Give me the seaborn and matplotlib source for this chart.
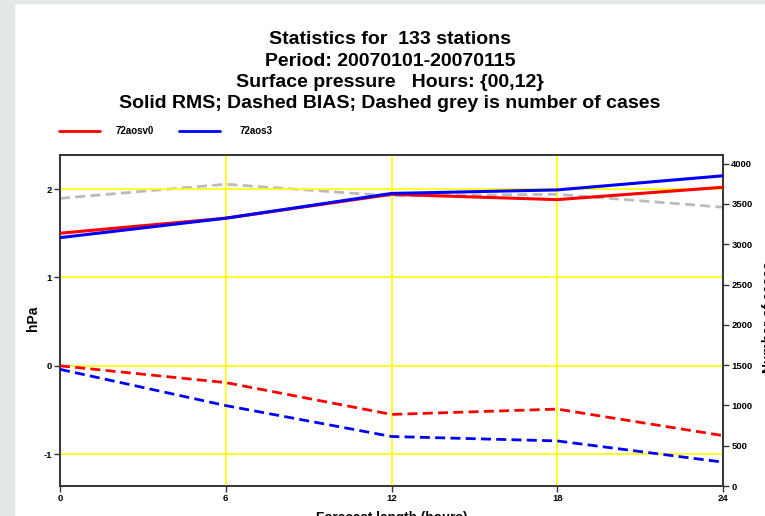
import matplotlib
matplotlib.use("Agg")
import matplotlib.pyplot as plt
import seaborn as sns
import pandas as pd

hours = [0, 6, 12, 18, 24]
rms_72aosv0 = [1.50, 1.67, 1.94, 1.88, 2.02]
rms_72aos3 = [1.45, 1.67, 1.95, 1.99, 2.15]
bias_72aosv0 = [0.00, -0.19, -0.55, -0.49, -0.79]
bias_72aos3 = [-0.04, -0.45, -0.80, -0.85, -1.09]
cases = [3570, 3745, 3600, 3620, 3460]
exp_names = ["72aosv0", "72aos3"]
title_lines = ["Statistics for  133 stations", "Period: 20070101-20070115",
               "Surface pressure   Hours: {00,12}",
               "Solid RMS; Dashed BIAS; Dashed grey is number of cases"]

sns.set_theme(style="white")
plt.rcParams['font.family'] = ['Liberation Sans', 'DejaVu Sans']
plt.rcParams['text.color'] = 'black'
plt.rcParams['xtick.color'] = 'black'
plt.rcParams['ytick.color'] = 'black'

W, H = 765, 516
fig = plt.figure(figsize=(W / 100, H / 100), dpi=100)
fig.patch.set_facecolor("white")

# page frame strips
fig.patches.append(plt.Rectangle((0, 0), 14 / W, 1, transform=fig.transFigure,
                                 color="#e4e9e6", zorder=0))
fig.patches.append(plt.Rectangle((0, 1 - 3 / H), 1, 3 / H, transform=fig.transFigure,
                                 color="#e4e9e6", zorder=0))

ax = fig.add_axes([60 / W, (H - 486) / H, 663 / W, 331 / H])
ax2 = ax.twinx()

df = pd.DataFrame({"hours": hours, "r0": rms_72aosv0, "r3": rms_72aos3,
                   "b0": bias_72aosv0, "b3": bias_72aos3, "cases": cases})

ax.set_xlim(0, 24)
ax.set_ylim(-1.36, 2.385)
ax2.set_ylim(0, 4108)

for v in [6, 12, 18]:
    ax.axvline(v, color="#ffff00", lw=1.2, zorder=1)
for v in [2, 1, 0, -1]:
    ax.axhline(v, color="#ffff00", lw=1.2, zorder=1)

dash = (0, (3.6, 1.9))
sns.lineplot(data=df, x="hours", y="cases", ax=ax2, color="#bbbbbb", lw=2,
             linestyle=dash, zorder=2)
sns.lineplot(data=df, x="hours", y="r0", ax=ax, color="#ff0000", lw=2.2, zorder=3)
sns.lineplot(data=df, x="hours", y="r3", ax=ax, color="#0000ff", lw=2.2, zorder=3)
sns.lineplot(data=df, x="hours", y="b0", ax=ax, color="#ff0000", lw=2,
             linestyle=dash, zorder=3)
sns.lineplot(data=df, x="hours", y="b3", ax=ax, color="#0000ff", lw=2,
             linestyle=dash, zorder=3)

ax.set_zorder(ax2.get_zorder() + 1)
ax.patch.set_visible(False)

ax.set_xticks(hours)
ax.set_xticklabels([str(h) for h in hours])
ax.set_yticks([-1, 0, 1, 2])
ax.set_yticklabels(["-1", "0", "1", "2"])
ax2.set_yticks([0, 500, 1000, 1500, 2000, 2500, 3000, 3500, 4000])
for a in (ax, ax2):
    a.tick_params(axis="both", which="major", length=4, width=1, color="#333333",
                  labelsize=6.8, pad=2, direction="out", labelcolor="black")
    for lab in a.get_xticklabels() + a.get_yticklabels():
        lab.set_fontweight("bold")
    for s in a.spines.values():
        s.set_color("#333333")
        s.set_linewidth(1.2)
ax.tick_params(left=True, bottom=True)
ax2.tick_params(right=True)

ax.set_xlabel("")
ax.set_ylabel("")
ax2.set_ylabel("")
ax.grid(False)
ax2.grid(False)

fig.text(33 / W, 1 - 318 / H, "hPa", rotation=90, ha="center", va="center",
         fontsize=10, fontweight="bold")
fig.text(762 / W, 1 - 373 / H, "Number of cases", rotation=90, ha="left",
         va="bottom", fontsize=10, fontweight="bold")
fig.text(392 / W, 1 - 518 / H, "Forecast length (hours)", ha="center",
         va="center", fontsize=9.8, fontweight="bold")

ys = [40, 61, 82, 103]
for t, y in zip(title_lines, ys):
    fig.text(390 / W, 1 - y / H, t, ha="center", va="center", fontsize=14,
             fontweight="bold")

# legend
for name, col, x0, xt in zip(exp_names, ["#ff0000", "#0000ff"], [59, 179], [116, 240]):
    fig.add_artist(plt.Line2D([x0 / W, (x0 + 41) / W], [1 - 131 / H, 1 - 131 / H],
                              color=col, lw=2, transform=fig.transFigure))
    fig.text(xt / W, 1 - 131 / H, name, ha="left", va="center",
             fontsize=7, fontweight="bold")

fig.savefig("out.png", dpi=100)
